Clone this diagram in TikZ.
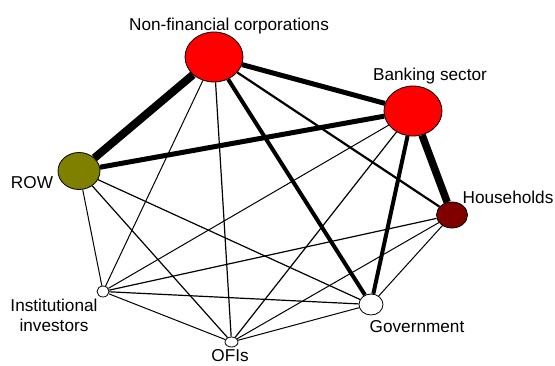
\documentclass[tikz,border=0pt]{standalone}
\usepackage{fontspec}
\setmainfont{Liberation Sans}
\usetikzlibrary{shapes.geometric,backgrounds}
\definecolor{rowolive}{RGB}{128,128,0}
\definecolor{hhmaroon}{RGB}{128,0,0}
\begin{document}
\begin{tikzpicture}[x=1pt,y=-1pt,
  sector/.style={ellipse,draw=black,line width=0.8pt,inner sep=0pt},
  lbl/.style={font=\fontsize{17.2}{20}\selectfont,inner sep=0pt},
  wvthick/.style={line width=8pt},
  wthick/.style={line width=5pt},
  wmthick/.style={line width=4pt},
  wmed/.style={line width=2.2pt},
  wthin/.style={line width=1pt},
  wthinb/.style={line width=1.2pt}]
\useasboundingbox (0,0) rectangle (555,365);
\node[sector,fill=red,minimum width=58pt,minimum height=50pt] (nfc) at (214,57) {};
\node[sector,fill=red,minimum width=58pt,minimum height=50pt] (bank) at (413,111) {};
\node[sector,fill=rowolive,minimum width=42pt,minimum height=37pt] (row) at (79,171) {};
\node[sector,fill=hhmaroon,minimum width=31pt,minimum height=26pt] (hh) at (452,215) {};
\node[sector,fill=white,minimum width=12pt,minimum height=11pt] (ii) at (103,291.5) {};
\node[sector,fill=white,minimum width=13pt,minimum height=10pt] (ofi) at (231.5,342) {};
\node[sector,fill=white,minimum width=24pt,minimum height=21pt] (gov) at (371,304.5) {};
\node[lbl,anchor=base] (lnfc) at (229,30) {Non-financial corporations};
\node[lbl,anchor=base] (lbank) at (430,80) {Banking sector};
\node[lbl,anchor=base] (lhh) at (508,203) {Households};
\node[lbl,anchor=base] (lrow) at (32,188) {ROW};
\node[lbl,align=center] (lii) at (54,315) {Institutional\\investors};
\node[lbl,anchor=base] (lofi) at (230,361.5) {OFIs};
\node[lbl,anchor=base] (lgov) at (417,332) {Government};
\begin{pgfonlayer}{background}
\draw[wvthick] (nfc) -- (row);
\draw[wthick] (nfc) -- (bank);
\draw[wthick] (bank) -- (row);
\draw[line width=7.5pt] (bank) -- (hh);
\draw[wmthick] (bank) -- (gov);
\draw[wmthick] (nfc) -- (gov);
\draw[wmed] (nfc) -- (hh);
\draw[wthin] (nfc) -- (ii);
\draw[wthinb] (nfc) -- (ofi);
\draw[wthin] (bank) -- (ii);
\draw[wthinb] (bank) -- (ofi);
\draw[wthin] (row) -- (ii);
\draw[wthinb] (row) -- (ofi);
\draw[wthinb] (row) -- (gov);
\draw[wthinb] (hh) -- (ii);
\draw[wthin] (hh) -- (ofi);
\draw[wthin] (hh) -- (gov);
\draw[wthinb] (ii) -- (gov);
\draw[wthin] (ii) -- (ofi);
\draw[wthin] (ofi) -- (gov);
\end{pgfonlayer}
\end{tikzpicture}
\end{document}
